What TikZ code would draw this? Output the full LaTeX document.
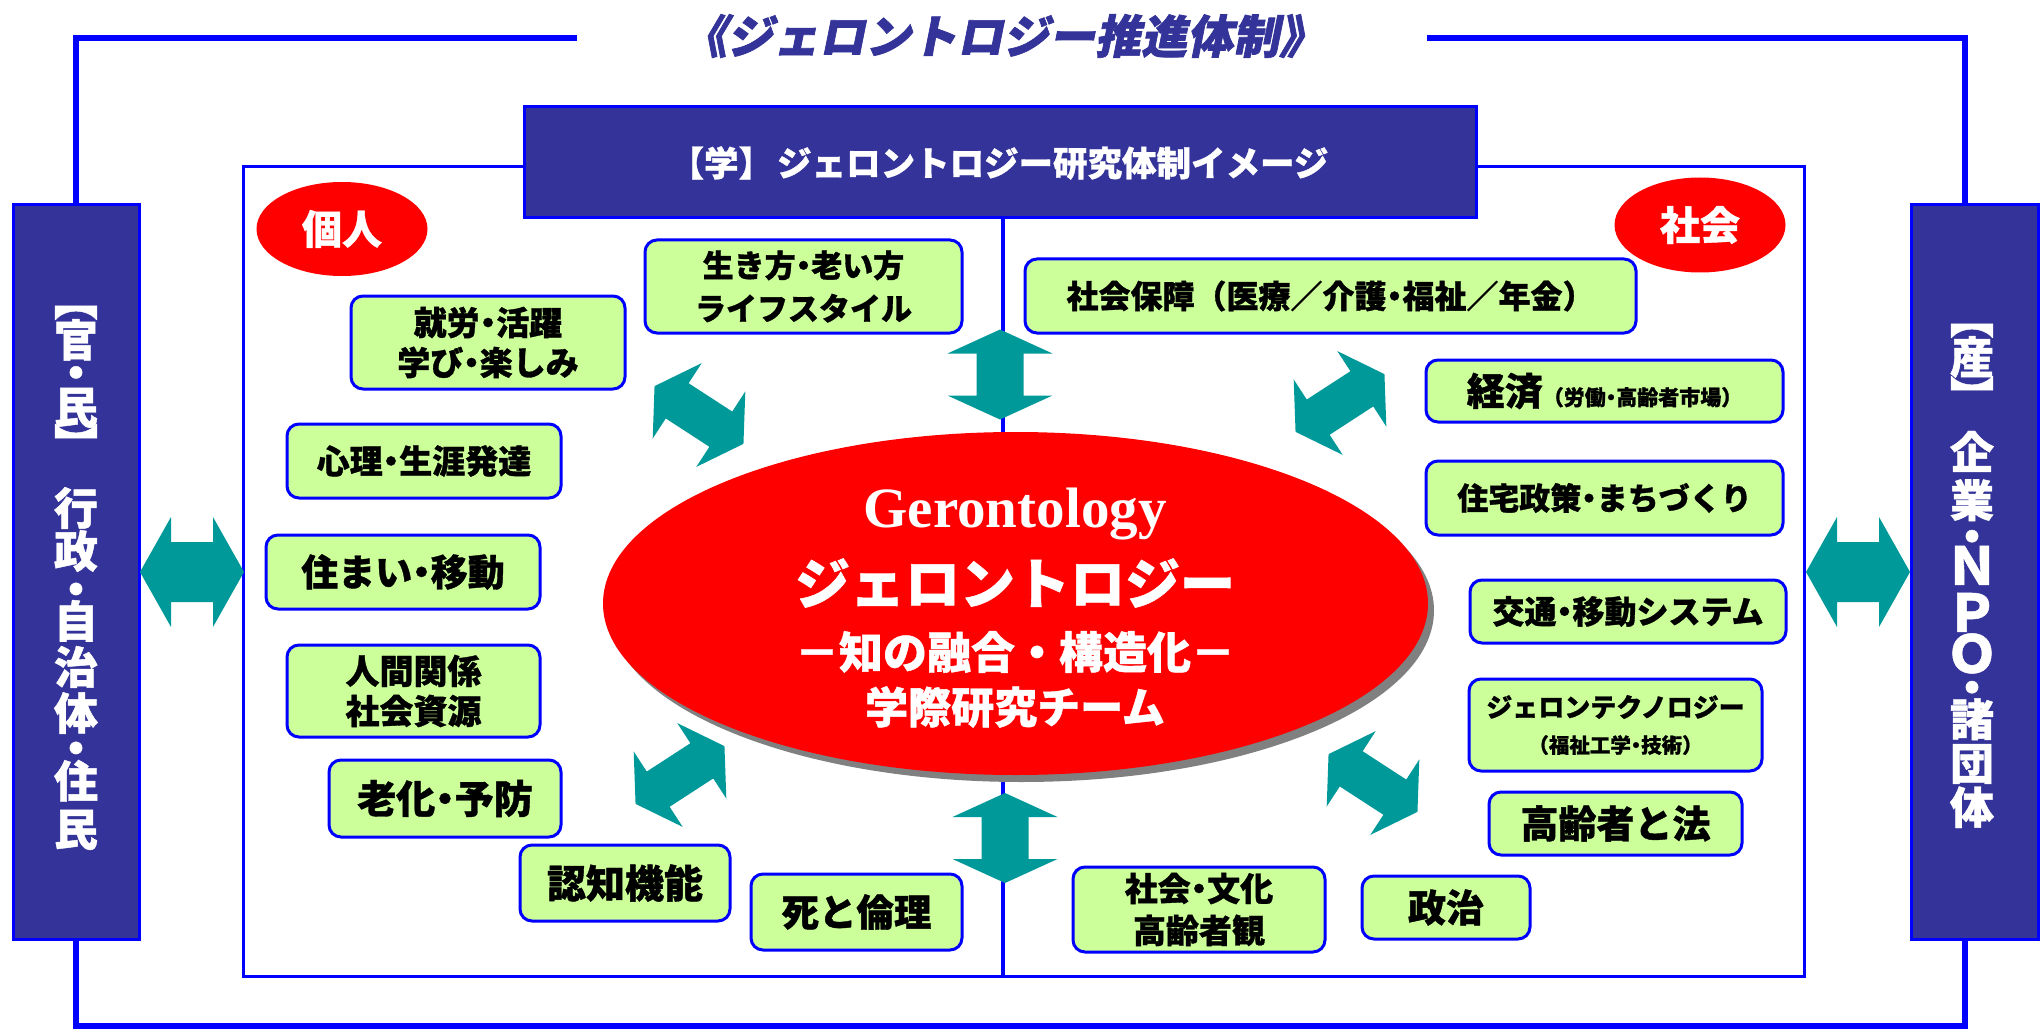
\documentclass[tikz,border=0pt]{standalone}
\usepackage{fontspec}
\usetikzlibrary{shapes.geometric,calc}
\newfontfamily\jp{Noto Sans CJK JP}[FakeBold=1]
\newfontfamily\jpsl{Noto Sans CJK JP}[FakeSlant=0.2,FakeBold=1.5]
\newfontfamily\tms{Liberation Serif}
\newcommand\jfs[1]{\fontsize{#1}{#1}\selectfont}
\newcommand\jfl[2]{\fontsize{#1}{#2}\selectfont}
\newcommand\nd{\kern-0.25em・\kern-0.25em}
\definecolor{hdrblue}{HTML}{333399}
\definecolor{lineblue}{HTML}{0000FF}
\definecolor{boxgreen}{HTML}{CCFF99}
\definecolor{arrteal}{HTML}{009999}
\definecolor{shadowgray}{HTML}{808080}
\tikzset{
  pics/dbl/.style n args={5}{code={
    \fill[arrteal, rotate=#5] ({-(#1)/2},0) -- ({-(#1)/2+#2},{(#3)/2}) -- ({-(#1)/2+#2},{(#4)/2})
      -- ({(#1)/2-#2},{(#4)/2}) -- ({(#1)/2-#2},{(#3)/2}) -- ({(#1)/2},0)
      -- ({(#1)/2-#2},{-(#3)/2}) -- ({(#1)/2-#2},{-(#4)/2}) -- ({-(#1)/2+#2},{-(#4)/2})
      -- ({-(#1)/2+#2},{-(#3)/2}) -- cycle;
  }}
}
\begin{document}
\lineskiplimit=-1000pt\relax
\begin{tikzpicture}[x=1pt,y=-1pt,
  gbox/.style={draw=lineblue, line width=3pt, fill=boxgreen, rounded corners=12pt, inner sep=0pt, align=center, text=black},
  nbox/.style={draw=lineblue, line width=3pt, fill=hdrblue, inner sep=0pt, text=white},
  outerline/.style={draw=lineblue, line width=5.5pt},
  innerline/.style={draw=lineblue, line width=3pt},
  midline/.style={draw=lineblue, line width=4pt},
  vch/.style={text=white, inner sep=0pt, font=\jp\bfseries\jfs{44}},
  vstack/.style={text=white, inner sep=0pt, align=center, font=\jp\bfseries\jfl{44}{44}},
  wtxt/.style={text=white, inner sep=0pt},
  redell/.style={ellipse, fill=red, inner sep=0pt},
]
\useasboundingbox (0,0) rectangle (2044,1032);
\fill[white] (0,0) rectangle (2044,1032);

% inner frame
\draw[innerline] (243,167) rectangle (1804,976);

% navy boxes
\node[nbox, minimum width=952pt, minimum height=111pt] (hdr) at (1000,162.5) {};
\node[wtxt, font=\jp\bfseries\jfs{34.5}] (hdrtxt) at (999,163) {【学】\hspace{4pt}ジェロントロジー研究体制イメージ};
\node[nbox, minimum width=126pt, minimum height=734pt] (kan) at (76,572) {};
\node[nbox, minimum width=127pt, minimum height=734pt] (san) at (1974.5,572) {};

% title and outer frame
\node[font=\jpsl\bfseries\jfs{46}, text=hdrblue, inner sep=0pt] (title) at (1003,36) {《ジェロントロジー推進体制》};
\coordinate (tgl) at (577,38);
\coordinate (tgr) at (1427,38);
\coordinate (rl) at (1965,1026);
\draw[outerline] (tgl) -- (76,38) -- (kan.north);
\draw[outerline] (kan.south) -- (76,1026) -- (rl) -- (san.south -| rl);
\draw[outerline] (tgr) -- (1965,38) -- (san.north -| rl);

% centre line
\coordinate (fb) at (1003,976);
\draw[midline] (hdr.south -| fb) -- (fb);

% central ellipse
\node[ellipse, fill=shadowgray, minimum width=825pt, minimum height=343pt, inner sep=0pt] (ellsh) at (1021.5,610.5) {};
\node[redell, minimum width=825pt, minimum height=343pt] (ell) at (1015.5,603.5) {};
\node[wtxt, font=\tms\bfseries\jfs{57}, anchor=base] (ger) at (1015,527) {Gerontology};
\node[wtxt, font=\jp\bfseries\jfs{55}] (jer) at (1015,583) {ジェロントロジー};
\node[wtxt, font=\jp\bfseries\jfs{44}] (chi) at (1015,652) {－知の融合・構造化－};
\node[wtxt, font=\jp\bfseries\jfs{43}] (gak) at (1015,707) {学際研究チーム};

% red labels
\node[redell, minimum width=171pt, minimum height=94pt, text=white, font=\jp\bfseries\jfs{40}] (kojin) at (342,229) {個人};
\node[redell, minimum width=171pt, minimum height=95pt, text=white, font=\jp\bfseries\jfs{40}] (shakai) at (1700,225) {社会};

% green boxes, left
\node[gbox, minimum width=317pt, minimum height=93pt, font=\jp\bfseries\jfl{31}{43}] (ikikata) at (803.5,286.5) {生き方\nd 老い方\\ライフスタイル};
\node[gbox, minimum width=274pt, minimum height=93pt, font=\jp\bfseries\jfl{33}{40}] (shuro) at (488,342.5) {就労\nd 活躍\\学び\nd 楽しみ};
\node[gbox, minimum width=274pt, minimum height=74pt, font=\jp\bfseries\jfs{33}] (shinri) at (424,461) {心理\nd 生涯発達};
\node[gbox, minimum width=274pt, minimum height=74pt, font=\jp\bfseries\jfs{37}] (sumai) at (403,572) {住まい\nd 移動};
\node[gbox, minimum width=253pt, minimum height=92pt, font=\jp\bfseries\jfl{34}{40}] (ningen) at (413.5,691) {人間関係\\社会資源};
\node[gbox, minimum width=232pt, minimum height=77pt, font=\jp\bfseries\jfs{39}] (roka) at (445,798.5) {老化\nd 予防};
\node[gbox, minimum width=210pt, minimum height=76pt, font=\jp\bfseries\jfs{39}] (ninchi) at (625,883) {認知機能};
\node[gbox, minimum width=211pt, minimum height=76pt, font=\jp\bfseries\jfs{37.5}] (shi) at (856.5,912) {死と倫理};

% green boxes, right
\node[gbox, minimum width=611pt, minimum height=74pt, font=\jp\bfseries\jfs{32}] (hosho) at (1330.5,296) {社会保障（医療／介護\nd 福祉／年金）};
\node[gbox, minimum width=357pt, minimum height=62pt, font=\jp\bfseries] (keizai) at (1604.5,391) {{\jfs{38}経済}{\jfs{21}（労働\nd 高齢者市場）}};
\node[gbox, minimum width=357pt, minimum height=74pt, font=\jp\bfseries\jfs{31}] (jutaku) at (1604.5,498) {住宅政策\nd まちづくり};
\node[gbox, minimum width=316pt, minimum height=63pt, font=\jp\bfseries\jfs{32}] (kotsu) at (1628,611.5) {交通\nd 移動システム};
\node[gbox, minimum width=293pt, minimum height=92pt, font=\jp\bfseries\jfl{26}{36}] (techno) at (1615.5,725) {ジェロンテクノロジー\\{\jfs{20.5}（福祉工学\nd 技術）}};
\node[gbox, minimum width=253pt, minimum height=63pt, font=\jp\bfseries\jfs{38}] (hourei) at (1615.5,823.5) {高齢者と法};
\node[gbox, minimum width=252pt, minimum height=85pt, font=\jp\bfseries\jfl{33}{42}] (bunka) at (1199,909.5) {社会\nd 文化\\高齢者観};
\node[gbox, minimum width=168pt, minimum height=63pt, font=\jp\bfseries\jfs{38}] (seiji) at (1446,907.5) {政治};

% teal double arrows
\pic (aL) at (192,572) {dbl={104}{31}{110}{60}{0}};
\pic (aR) at (1858,572) {dbl={104}{31}{110}{60}{0}};
\pic (aT) at (1000,374.5) {dbl={90}{24}{105}{47}{90}};
\pic (aB) at (1005,838) {dbl={90}{24}{105}{47}{90}};
\pic (aTL) at (699,415) {dbl={106}{27}{90}{42}{-33}};
\pic (aTR) at (1340,403) {dbl={106}{27}{90}{42}{33}};
\pic (aBL) at (680,775) {dbl={106}{27}{90}{42}{33}};
\pic (aBR) at (1373,783) {dbl={106}{27}{90}{42}{-33}};

% vertical texts, left box
\node[vch, rotate=-90] (kb1) at (76,299) {【};
\node[vstack] (kv1) at (76,373.5) {官\\[-11.5pt]・\\[-9.5pt]民};
\node[vch, rotate=-90] (kb2) at (76,445) {】};
\node[vstack] (kv2) at (76,668.5) {行\\[-1pt]政\\[-6pt]・\\[-12pt]自\\[2pt]治\\[2pt]体\\[-9pt]・\\[-11pt]住\\[4pt]民};

% vertical texts, right box
\node[vch, rotate=-90] (sb1) at (1972,317) {【};
\node[vch] (sv1) at (1972,357) {産};
\node[vch, rotate=-90] (sb2) at (1972,397) {】};
\node[vstack] (sv2) at (1972,629.5) {企\\[4pt]業\\[-8pt]・\\[-12pt]{\jfs{52}Ｎ}\\[3pt]{\jfs{52}Ｐ}\\[-3pt]{\jfs{52}Ｏ}\\[-13pt]・\\[-12pt]諸\\[0pt]団\\[0pt]体};
\end{tikzpicture}
\end{document}
